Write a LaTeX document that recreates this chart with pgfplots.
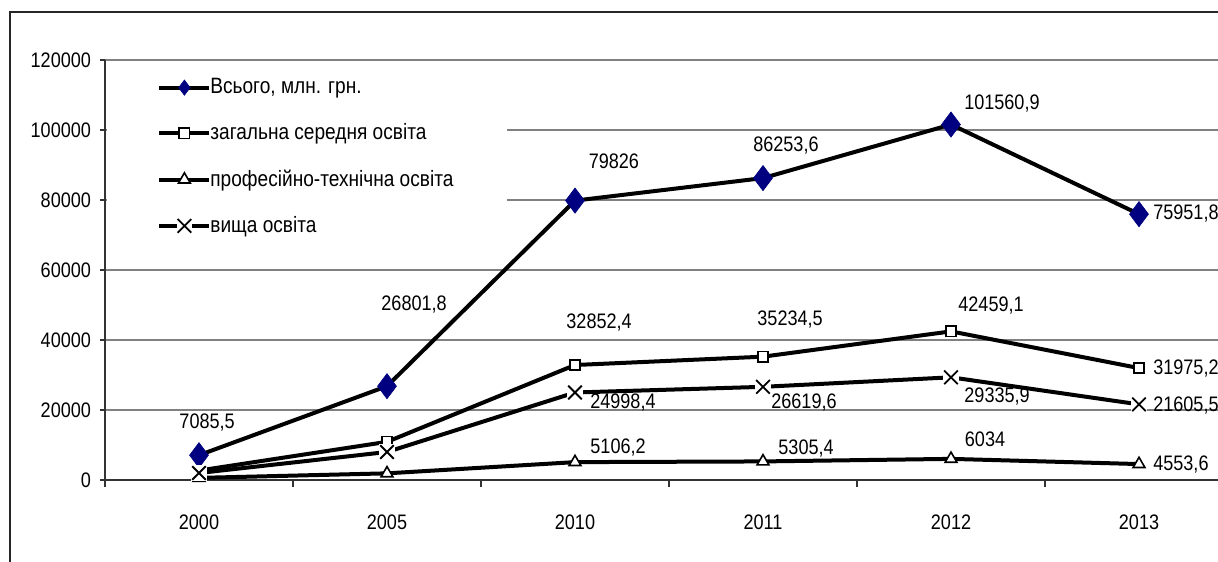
\documentclass[border=0pt]{standalone}
\usepackage{pgfplots}
\pgfplotsset{compat=1.18}
\usepackage{fontspec}
\setmainfont{Liberation Sans}[FakeStretch=0.86]
\definecolor{navyblue}{RGB}{0,0,128}
\definecolor{gridgray}{RGB}{128,128,128}
\newcommand{\lblfont}{\fontsize{10.5}{12}\selectfont}
\newcommand{\legfont}{\fontsize{11.1}{12.5}\selectfont}
\tikzset{lbl/.style={font=\lblfont, inner sep=0pt}}
\pgfdeclareplotmark{xhalo}{%
  \pgfpathrectangle{\pgfqpoint{-1.15\pgfplotmarksize}{-1.15\pgfplotmarksize}}{\pgfqpoint{2.3\pgfplotmarksize}{2.3\pgfplotmarksize}}%
  \pgfsetfillcolor{white}\pgfusepathqfill
  \pgfsetlinewidth{0.9pt}\pgfsetstrokecolor{black}%
  \pgfpathmoveto{\pgfqpoint{-\pgfplotmarksize}{-\pgfplotmarksize}}%
  \pgfpathlineto{\pgfqpoint{\pgfplotmarksize}{\pgfplotmarksize}}%
  \pgfpathmoveto{\pgfqpoint{-\pgfplotmarksize}{\pgfplotmarksize}}%
  \pgfpathlineto{\pgfqpoint{\pgfplotmarksize}{-\pgfplotmarksize}}%
  \pgfusepathqstroke
}
\begin{document}
\begin{tikzpicture}
\useasboundingbox (0,0) rectangle (609pt,280.5pt);
\fill[white] (0,0) rectangle (609pt,280.5pt);
\draw[line width=0.7pt, black!85] (5pt,-5pt) -- (5pt,274.5pt) -- (620pt,274.5pt);
\begin{axis}[
  at={(52.5pt,40.5pt)}, anchor=south west,
  scale only axis, width=564pt, height=210pt,
  xmin=-0.5, xmax=5.5, ymin=0, ymax=120000,
  axis x line=bottom, axis y line=left,
  axis line style={-, line width=0.6pt, black!80},
  xtick={0,...,5}, xticklabels={2000,2005,2010,2011,2012,2013},
  minor xtick={-0.5,0.5,...,5.5},
  major x tick style={draw=none},
  ytick={0,20000,...,120000},
  tick align=outside, major tick length=2.5pt, minor tick length=3.5pt,
  tick style={black!80, line width=0.6pt},
  ymajorgrids, grid style={gridgray, line width=0.6pt},
  scaled y ticks=false,
  /pgf/number format/fixed,
  /pgf/number format/precision=0,
  /pgf/number format/1000 sep={},
  /pgf/number format/assume math mode=true,
  tick label style={font=\lblfont},
  xticklabel style={yshift=-11.5pt},
  yticklabel style={xshift=-1pt},
  clip=false,
  legend cell align=left,
  legend style={at={(axis description cs:0,0.995)}, anchor=north west,
    xshift=-1pt, yshift=-3pt,
    draw=none, fill=none, inner xsep=5pt, inner ysep=4pt,
    font=\legfont, row sep=11.5pt,
    nodes={inner xsep=1pt, inner ysep=1pt},
    /tikz/every odd column/.append style={column sep=-1.5pt}},
  legend image code/.code={%
    \path (-22pt,0pt);
    \draw[#1, mark repeat=2, mark phase=2] plot coordinates {(0pt,0pt) (12.5pt,0pt) (25pt,0pt)};},
]
\fill[white] ([xshift=0.8pt]axis cs:-0.5,65700) rectangle (axis cs:1.638,119400);
\addplot[line width=2pt, black, mark=diamond*, mark size=6.3pt,
  mark options={solid, fill=navyblue, draw=navyblue, line width=0.3pt},
  legend image post style={mark size=3.8pt}]
  coordinates {(0,7085.5) (1,26801.8) (2,79826) (3,86253.6) (4,101560.9) (5,75951.8)};
\addlegendentry{Всього, млн. грн.}
\addplot[line width=2pt, black, mark=square*, mark size=2.6pt,
  mark options={solid, fill=white, draw=black, line width=0.8pt}]
  coordinates {(0,2700) (1,10900) (2,32852.4) (3,35234.5) (4,42459.1) (5,31975.2)};
\addlegendentry{загальна середня освіта}
\addplot[line width=2pt, black, mark=triangle*, mark size=3.4pt,
  mark options={solid, fill=white, draw=black, line width=0.8pt}]
  coordinates {(0,600) (1,1900) (2,5106.2) (3,5305.4) (4,6034) (5,4553.6)};
\addlegendentry{професійно-технічна освіта}
\addplot[line width=2pt, black, mark=xhalo, mark size=3.4pt]
  coordinates {(0,2000) (1,8000) (2,24998.4) (3,26619.6) (4,29335.9) (5,21605.5)};
\addlegendentry{вища освіта}

\node[lbl] at (axis cs:0.043,16286) {7085,5};
\node[lbl] at (axis cs:1.144,50000) {26801,8};
\node[lbl] at (axis cs:2.207,91143) {79826};
\node[lbl] at (axis cs:3.122,95429) {86253,6};
\node[lbl] at (axis cs:4.271,107429) {101560,9};
\node[lbl, anchor=west] at (axis cs:5.074,76000) {75951,8};
\node[lbl] at (axis cs:2.128,44857) {32852,4};
\node[lbl] at (axis cs:3.144,45714) {35234,5};
\node[lbl] at (axis cs:4.213,49714) {42459,1};
\node[lbl, anchor=west] at (axis cs:5.074,31714) {31975,2};
\node[lbl] at (axis cs:2.255,22000) {24998,4};
\node[lbl] at (axis cs:3.218,22000) {26619,6};
\node[lbl] at (axis cs:4.245,23714) {29335,9};
\node[lbl, anchor=west] at (axis cs:5.074,21143) {21605,5};
\node[lbl] at (axis cs:2.229,9143) {5106,2};
\node[lbl] at (axis cs:3.229,8857) {5305,4};
\node[lbl] at (axis cs:4.181,11714) {6034};
\node[lbl, anchor=west] at (axis cs:5.074,4286) {4553,6};
\end{axis}
\end{tikzpicture}
\end{document}
